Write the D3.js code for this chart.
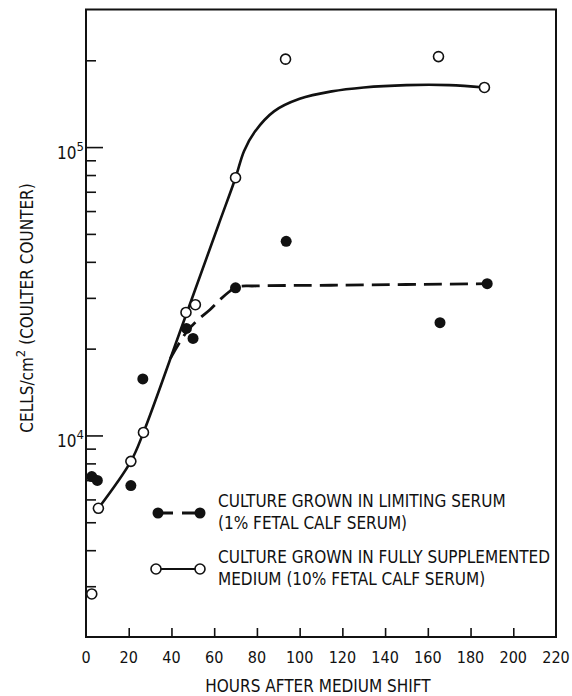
<!DOCTYPE html>
<html>
<head>
<meta charset="utf-8">
<script src="https://cdn.jsdelivr.net/npm/d3@7"></script>
<style>
  body { margin: 0; background: #fff; }
  svg { display: block; }
  text { font-family: "Liberation Sans Narrow", "DejaVu Sans Condensed", "Arial Narrow", sans-serif; fill: #111; }
</style>
</head>
<body>
<svg id="chart" width="572" height="696"></svg>
<script>
const limitingHours = [2.7, 5.3, 21, 26.6, 47, 50.1, 70, 93.7, 165.7, 187.8];
const limitingCells = [7200, 6980, 6700, 15700, 23500, 21700, 32500, 47100, 24600, 33600];
const fullHours = [2.7, 5.8, 21, 26.9, 46.8, 51.2, 70, 93.4, 165, 186.5];
const fullCells = [2820, 5590, 8130, 10240, 26700, 28400, 78300, 201800, 206000, 161000];

// Hand drawn fit curves
const fullFitHours = [5.8, 21, 26.9, 45, 62, 70, 74, 79, 88, 100, 115, 130, 150, 170, 186.5];
const fullFitCells = [5590, 8130, 10240, 24000, 53700, 78300, 97000, 113000, 133000, 147000, 156000, 161000, 164000, 164000, 161000];
const limitingFitHours = [39.5, 47, 53, 58, 63, 67, 70, 80, 120, 187.8];
const limitingFitCells = [18500, 22800, 25400, 27300, 29700, 31500, 32700, 33000, 33200, 33600];

// Axis ticks
const xTickValues = [0, 20, 40, 60, 80, 100, 120, 140, 160, 180, 200, 220];
const yMajorTicks = [1e4, 1e5];
const yMajorExponents = ['4', '5'];
const yMinorTicks = [3e3, 4e3, 5e3, 6e3, 7e3, 8e3, 9e3, 2e4, 3e4, 4e4, 5e4, 6e4, 7e4, 8e4, 9e4, 2e5];

// Legend lines
const legendLimiting = ['CULTURE GROWN IN LIMITING SERUM', '(1% FETAL CALF SERUM)'];
const legendFull = ['CULTURE GROWN IN FULLY SUPPLEMENTED', 'MEDIUM (10% FETAL CALF SERUM)'];

const svg = d3.select('#chart');
const plotLeft = 86, plotRight = 556, plotTop = 9.5, plotBottom = 637;

const x = d3.scaleLinear().domain([0, 220]).range([plotLeft, plotRight]);
const y = d3.scaleLog().domain([2000, 300000]).range([plotBottom, plotTop]);

// frame round the plot
svg.append('rect')
    .attr('x', plotLeft).attr('y', plotTop)
    .attr('width', plotRight - plotLeft).attr('height', plotBottom - plotTop)
    .attr('fill', 'none').attr('stroke', '#111').attr('stroke-width', 2);

// y ticks point into the plot from the left edge
const yMinor = svg.append('g').attr('transform', `translate(${plotLeft},0)`)
    .call(d3.axisRight(y).tickValues(yMinorTicks).tickSize(10).tickFormat(''));
const yMajor = svg.append('g').attr('transform', `translate(${plotLeft},0)`)
    .call(d3.axisRight(y).tickValues(yMajorTicks).tickSize(17).tickFormat(''));
[yMinor, yMajor].forEach(g => {
    g.select('.domain').remove();
    g.selectAll('line').attr('stroke', '#111').attr('stroke-width', 1.6);
});

// x ticks point up from the bottom edge
const xAxis = svg.append('g').attr('transform', `translate(0,${plotBottom})`)
    .call(d3.axisTop(x).tickValues(xTickValues.slice(1, -1)).tickSize(9).tickFormat(''));
xAxis.select('.domain').remove();
xAxis.selectAll('line').attr('stroke', '#111').attr('stroke-width', 1.6);

// x tick labels
svg.append('g').selectAll('text')
    .data(xTickValues)
    .enter().append('text')
    .attr('x', d => x(d))
    .attr('y', plotBottom + 26)
    .attr('text-anchor', 'middle')
    .attr('font-size', 16)
    .text(d => d);

// y tick labels 10^4, 10^5
const yLabels = svg.append('g').selectAll('text')
    .data(yMajorTicks)
    .enter().append('text')
    .attr('x', 57)
    .attr('y', d => y(d) + 12)
    .attr('font-size', 17);
yLabels.append('tspan').text('10');
yLabels.append('tspan')
    .attr('dy', -8)
    .attr('font-size', 13)
    .text((d, i) => yMajorExponents[i]);

// axis titles
svg.append('text')
    .attr('x', 318)
    .attr('y', 692)
    .attr('text-anchor', 'middle')
    .attr('font-size', 17)
    .text('HOURS AFTER MEDIUM SHIFT');

const yTitle = svg.append('text')
    .attr('transform', 'translate(33,308) rotate(-90)')
    .attr('text-anchor', 'middle')
    .attr('font-size', 17);
yTitle.append('tspan').text('CELLS/cm');
yTitle.append('tspan').attr('dy', -8).attr('font-size', 13).text('2');
yTitle.append('tspan').attr('dy', 8).text(' (COULTER COUNTER)');

// fit lines
const line = d3.line()
    .x(d => x(d[0]))
    .y(d => y(d[1]))
    .curve(d3.curveCatmullRom.alpha(0.5));

svg.append('path')
    .datum(d3.zip(fullFitHours, fullFitCells))
    .attr('d', line)
    .attr('fill', 'none').attr('stroke', '#111').attr('stroke-width', 2.6);

svg.append('path')
    .datum(d3.zip(limitingFitHours, limitingFitCells))
    .attr('d', line)
    .attr('fill', 'none').attr('stroke', '#111').attr('stroke-width', 2.8)
    .attr('stroke-dasharray', '18,8');

// points
svg.append('g').selectAll('circle')
    .data(d3.zip(limitingHours, limitingCells))
    .enter().append('circle')
    .attr('cx', d => x(d[0]))
    .attr('cy', d => y(d[1]))
    .attr('r', 5.5)
    .attr('fill', '#111');

svg.append('g').selectAll('circle')
    .data(d3.zip(fullHours, fullCells))
    .enter().append('circle')
    .attr('cx', d => x(d[0]))
    .attr('cy', d => y(d[1]))
    .attr('r', 5)
    .attr('fill', '#fff').attr('stroke', '#111').attr('stroke-width', 1.6);

// legend
const legend = svg.append('g');
legend.append('line')
    .attr('x1', 158).attr('x2', 200).attr('y1', 513).attr('y2', 513)
    .attr('stroke', '#111').attr('stroke-width', 2.8).attr('stroke-dasharray', '15,9');
legend.selectAll('.dot')
    .data([158, 200])
    .enter().append('circle')
    .attr('cx', d => d).attr('cy', 513).attr('r', 5.5).attr('fill', '#111');

legend.append('line')
    .attr('x1', 156).attr('x2', 200).attr('y1', 569).attr('y2', 569)
    .attr('stroke', '#111').attr('stroke-width', 2.2);
legend.selectAll('.ring')
    .data([156, 200])
    .enter().append('circle')
    .attr('cx', d => d).attr('cy', 569).attr('r', 5)
    .attr('fill', '#fff').attr('stroke', '#111').attr('stroke-width', 1.6);

legend.selectAll('.lab')
    .data(legendLimiting.concat(legendFull))
    .enter().append('text')
    .attr('x', 218)
    .attr('y', (d, i) => [507, 529, 563, 585][i])
    .attr('font-size', 17)
    .text(d => d);
</script>
</body>
</html>
